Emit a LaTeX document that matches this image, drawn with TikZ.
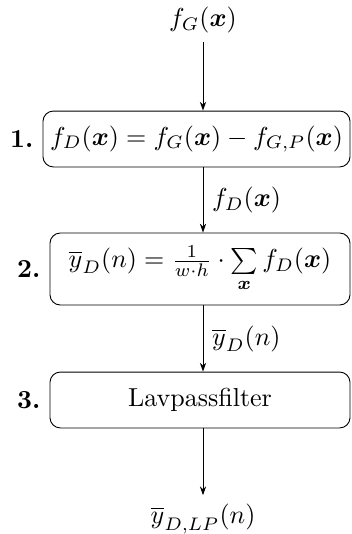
\documentclass[tikz,border=0pt]{standalone}
\usepackage{amsmath,bm}
\usetikzlibrary{arrows.meta}
\begin{document}
\begin{tikzpicture}[x=0.3846pt,y=-0.3846pt, line width=0.35pt,
  box/.style={draw, rounded corners=4pt, minimum height=21.5pt, inner sep=3pt},
  arr/.style={-{Stealth[length=3.4pt,width=2.4pt]}},
  lab/.style={font=\bfseries}]
\useasboundingbox (0,0) rectangle (352,534);
\node (in) at (203,20) {$f_G(\bm{x})$};
\node[box, minimum width=118.1pt, inner xsep=1.5pt] (b1) at (196.5,139) {$f_D(\bm{x}) = f_G(\bm{x}) - f_{G,P}(\bm{x})$};
\node[box, minimum width=115.4pt, minimum height=27.7pt] (b2) at (200,269) {$\overline{y}_D(n) = \frac{1}{w\cdot h}\cdot \sum\limits_{\bm{x}} f_D(\bm{x})$};
\node[box, minimum width=115.4pt] (b3) at (200,400) {Lavpassfilter};
\node (out) at (203,519) {$\overline{y}_{D,LP}(n)$};
\node[lab, anchor=east] (l1) at (b1.west) {1.};
\node[lab, anchor=east] (l2) at (b2.west) {2.};
\node[lab, anchor=east] (l3) at (b3.west) {3.};
\draw[arr] (in) -- (in |- b1.north);
\draw[arr] (in |- b1.south) -- node[right] {$f_D(\bm{x})$} (in |- b2.north);
\draw[arr] (in |- b2.south) -- node[right] {$\overline{y}_D(n)$} (in |- b3.north);
\draw[arr] (in |- b3.south) -- (out);
\end{tikzpicture}
\end{document}
